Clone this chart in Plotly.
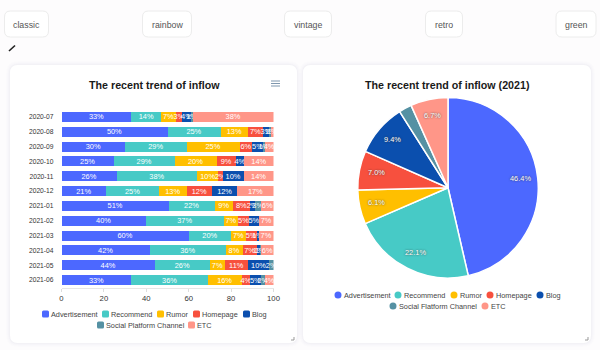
import math
import plotly.graph_objects as go

months = ["2020-07","2020-08","2020-09","2020-10","2020-11","2020-12",
          "2021-01","2021-02","2021-03","2021-04","2021-05","2021-06"]
bar_names = ["Advertisement","Recommend","Rumor","Homepage","Blog","Social Platform Channel","ETC"]
pie_names = ["Advertisement","Recommend","Rumor","Homepage","Blog","Social Flatform Channel","ETC"]
colors = ["#4C68FF","#47CAC6","#FFBF00","#F7503E","#0B4FAE","#5591A3","#FF9688"]

advertisement = [33,50,30,24.7,26,21,50.6,39.8,60,41.7,44,33]
recommend     = [14,25,29,28.6,38,25,21.6,36.7,20,35.8,26,36]
rumor         = [7,13,25,19.9,10,13,8.8,6.9,7,7.9,7,16]
homepage      = [3,7,6,9,2,12,7.8,5,5,6.8,11,4]
blog          = [4,3,5,4,10,12,2.3,4.8,1,1.4,10,5]
social        = [1,1,1,0,0,0,3.1,0,0,0.6,2,2]
etc           = [38,1,4,13.8,14,17,5.8,6.8,7,5.8,0,4]
series = [advertisement,recommend,rumor,homepage,blog,social,etc]

pie_values = [46.4,22.1,6.1,7.0,9.4,2.3,6.7]
buttons = ["classic","rainbow","vintage","retro","green"]
title_left = "The recent trend of inflow"
title_right = "The recent trend of inflow (2021)"

W, H = 600, 350
FONT = "Liberation Sans, Arial, sans-serif"
fx = lambda v: v / W
fy = lambda v: 1 - v / H

def rrect(x0, y0, x1, y1, r):
    X0, X1, Y0, Y1 = fx(x0), fx(x1), fy(y0), fy(y1)
    rx, ry = r / W, r / H
    return (f"M{X0+rx},{Y0} L{X1-rx},{Y0} Q{X1},{Y0} {X1},{Y0-ry} L{X1},{Y1+ry} Q{X1},{Y1} {X1-rx},{Y1} "
            f"L{X0+rx},{Y1} Q{X0},{Y1} {X0},{Y1+ry} L{X0},{Y0-ry} Q{X0},{Y0} {X0+rx},{Y0} Z")

shapes, annotations = [], []

def px_rect(x0, y0, x1, y1, r, fill, line="rgba(0,0,0,0)", lw=0):
    shapes.append(dict(type="path", xref="paper", yref="paper", path=rrect(x0, y0, x1, y1, r),
                       fillcolor=fill, line=dict(color=line, width=lw), layer="below"))

def label(x, y, s, size=7.3, color="#444", bold=False, anchor="left", shadow=None):
    font = dict(size=size, color=color, family=FONT)
    if shadow:
        font["shadow"] = shadow
    annotations.append(dict(x=fx(x), y=fy(y), xref="paper", yref="paper", text=f"<b>{s}</b>" if bold else s,
                            showarrow=False, xanchor=anchor, yanchor="middle", align=anchor,
                            font=font, borderpad=0, borderwidth=0))

# cards, with a soft stacked shadow
for x0, x1 in [(10, 297), (303, 591)]:
    for grow, alpha in [(4, .006), (3, .008), (2, .012), (1, .016)]:
        px_rect(x0 - grow, 65 - grow, x1 + grow, 343 + grow, 8 + grow, f"rgba(40,40,70,{alpha})")
    px_rect(x0, 65, x1, 343, 8, "#FFFFFF")

# palette buttons
btn_boxes = [(4.5, 48.5), (142.5, 191.5), (284.5, 331.5), (425.5, 462.5), (556, 596)]
for name, (x0, x1) in zip(buttons, btn_boxes):
    px_rect(x0, 11, x1, 37, 6, "#FFFFFF", "#ECECEC", 1)
    label((x0 + x1) / 2, 24.5, name, size=8.8, color="#555", anchor="center")

def seg(x0, y0, x1, y1, color, width):
    shapes.append(dict(type="line", xref="paper", yref="paper", x0=fx(x0), y0=fy(y0), x1=fx(x1), y1=fy(y1),
                       line=dict(color=color, width=width), layer="below"))

seg(9, 51, 15, 45.5, "#222", 1.6)            # pencil
for y in (81, 83.5, 86):                     # menu icon
    seg(271, y, 280, y, "#7F97AE", 1)
for cx in (294, 588):                        # resize grips
    seg(cx - 3, 340, cx, 340, "#999", 1)
    seg(cx, 337, cx, 340, "#999", 1)

label(154, 85, title_left, size=10.7, color="#1A1A1A", bold=True, anchor="center")
label(447, 85, title_right, size=10.7, color="#1A1A1A", bold=True, anchor="center")

# legends built from the category lists
left_rows = [(314, [0,1,2,3,4], [42,102,157,193,243]), (325, [5,6], [97,188])]
for y, idx, xs in left_rows:
    for i, x in zip(idx, xs):
        px_rect(x, y - 3.5, x + 7, y + 3.5, 1.5, colors[i])
        label(x + 9, y, bar_names[i])

right_rows = [(295, [0,1,2,3,4], [338,398,454,490,540]), (306, [5,6], [393,485])]
for y, idx, xs in right_rows:
    for i, x in zip(idx, xs):
        shapes.append(dict(type="circle", xref="paper", yref="paper", x0=fx(x - 3.5), x1=fx(x + 3.5),
                           y0=fy(y + 3.5), y1=fy(y - 3.5), fillcolor=colors[i],
                           line=dict(width=0), layer="below"))
        label(x + 6, y, pie_names[i])

# pie percentage labels sit at a fixed radius on each slice's mid-angle
total = sum(pie_values)
running = 0
for v in pie_values:
    mid = (running + v / 2) / total * 2 * math.pi
    running += v
    if v >= 5:
        label(448 + 73 * math.sin(mid), 187 - 73 * math.cos(mid), f"{v:.1f}%", size=7.4,
              color="#FFFFFF", anchor="center", shadow="0px 0px 2px #333")

fig = go.Figure()

def pct(v):
    r = round(v)
    return "0" if r == 0 else f"{r}%"

for name, vals, col in zip(bar_names, series, colors):
    fig.add_trace(go.Bar(
        y=months, x=vals, name=name, orientation="h", marker=dict(color=col, line=dict(width=0)),
        text=[pct(v) for v in vals], textposition="inside", insidetextanchor="middle",
        textangle=0, constraintext="none", cliponaxis=False,
        textfont=dict(size=7.4, color="#FFFFFF", family=FONT), showlegend=False,
    ))

fig.add_trace(go.Pie(
    labels=pie_names, values=pie_values, sort=False, direction="clockwise", rotation=0,
    domain=dict(x=[fx(357.5), fx(538.5)], y=[fy(278), fy(97.5)]),
    marker=dict(colors=colors, line=dict(color="#FFFFFF", width=1.5)),
    textinfo="none", showlegend=False,
))

fig.update_layout(
    width=W, height=H, autosize=False, margin=dict(l=0, r=0, t=0, b=0, autoexpand=False),
    paper_bgcolor="#FDFCFD", plot_bgcolor="rgba(0,0,0,0)", barmode="stack", bargap=0.32,
    font=dict(family=FONT, color="#444"), showlegend=False,
    xaxis=dict(domain=[fx(61.5), fx(273.5)], range=[0, 100], dtick=20, showgrid=False, zeroline=False,
               showline=True, linecolor="#E6E6E6", ticks="outside", ticklen=3, tickcolor="#DDD",
               tickfont=dict(size=7.7, color="#333"), anchor="y"),
    yaxis=dict(domain=[fy(287.5), fy(109.5)], type="category", autorange="reversed", showgrid=False,
               zeroline=False, showline=False, ticks="", ticklabelstandoff=7, tickmode="linear", dtick=1,
               tickfont=dict(size=6.7, color="#333"), anchor="x"),
    shapes=shapes, annotations=annotations,
)

fig.write_html("out.html", config=dict(displayModeBar=False),
               post_script="document.body.style.margin='0';document.body.style.overflow='hidden';")
